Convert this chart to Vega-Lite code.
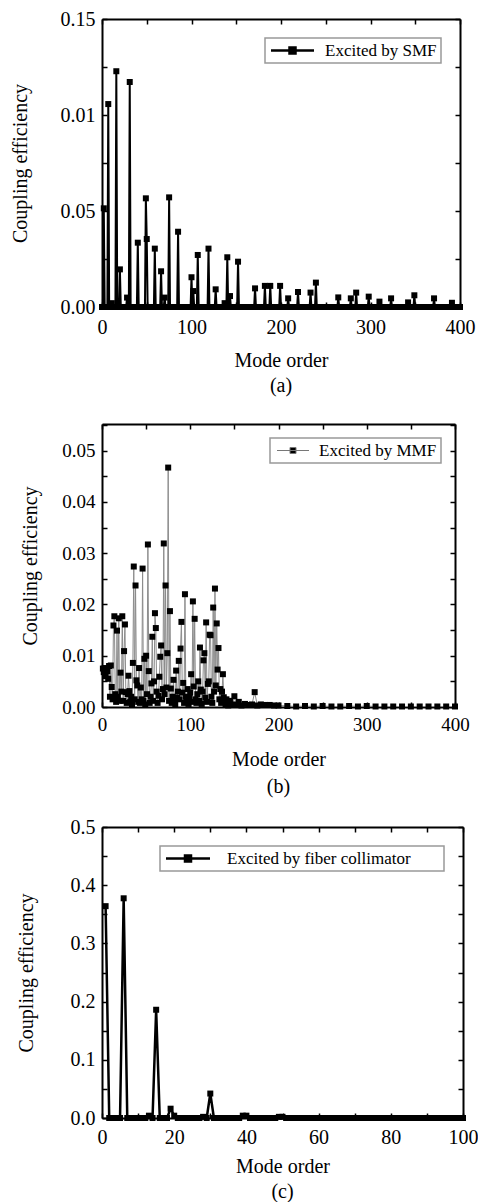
{
"$schema": "https://vega.github.io/schema/vega-lite/v6.json",
"padding": {"top": 9, "left": 10, "right": 0, "bottom": 0},
"spacing": 20,
"background": "white",
"resolve": {"scale": {"color": "independent"}, "legend": {"color": "independent"}},
"config": {
  "font": "Liberation Serif",
  "view": {"stroke": null},
  "axis": {"grid": false, "domainColor": "black", "domainWidth": 2, "tickColor": "black", "tickWidth": 1.5, "tickSize": -5, "labelColor": "black", "titleColor": "black", "labelFont": "Liberation Serif", "titleFont": "Liberation Serif", "labelFontSize": 20, "titleFontSize": 20, "titleFontWeight": "normal", "labelPadding": 12, "labelOverlap": false, "labelFlush": false, "labelBound": false},
  "legend": {"orient": "top-right", "offset": 19, "padding": 4, "strokeColor": "#999", "strokeWidth": 1.5, "fillColor": "white", "labelFont": "Liberation Serif", "labelFontSize": 17, "labelColor": "black", "title": null, "labelLimit": 0},
  "title": {"font": "Liberation Serif", "fontSize": 20, "fontWeight": "normal", "color": "black"}
},
"vconcat": [
{
  "width": 358, "height": 288,
  "title": {"text": "(a)", "orient": "bottom", "offset": 6},
  "data": {"values": [
    {"m":0,"v":0},{"m":1,"v":0},{"m":2,"v":0.0514},{"m":3,"v":0},{"m":5,"v":0},{"m":6,"v":0},{"m":7,"v":0.1057},{"m":8,"v":0},{"m":10,"v":0},{"m":11,"v":0.002},{"m":12,"v":0},{"m":15,"v":0},{"m":16,"v":0.1228},{"m":17,"v":0},{"m":19,"v":0},{"m":20,"v":0.0196},{"m":21,"v":0},{"m":25,"v":0},{"m":27,"v":0},{"m":28,"v":0.0049},{"m":29,"v":0},{"m":30,"v":0},{"m":31,"v":0.1172},{"m":32,"v":0},{"m":35,"v":0},{"m":39,"v":0},{"m":40,"v":0.0335},{"m":41,"v":0},{"m":45,"v":0},{"m":48,"v":0},{"m":49,"v":0.0566},{"m":50,"v":0.0354},{"m":51,"v":0},{"m":55,"v":0},{"m":58,"v":0},{"m":59,"v":0.0304},{"m":60,"v":0},{"m":65,"v":0},{"m":66,"v":0.0186},{"m":67,"v":0},{"m":69,"v":0},{"m":70,"v":0.0049},{"m":71,"v":0},{"m":74,"v":0},{"m":75,"v":0.0571},{"m":76,"v":0},{"m":80,"v":0},{"m":84,"v":0},{"m":85,"v":0.0392},{"m":86,"v":0},{"m":90,"v":0},{"m":95,"v":0},{"m":99,"v":0},{"m":100,"v":0.0155},{"m":101,"v":0},{"m":102,"v":0.0083},{"m":103,"v":0},{"m":105,"v":0},{"m":106,"v":0},{"m":107,"v":0.0271},{"m":108,"v":0},{"m":110,"v":0},{"m":115,"v":0},{"m":118,"v":0},{"m":119,"v":0.0304},{"m":120,"v":0},{"m":125,"v":0},{"m":126,"v":0},{"m":127,"v":0.0092},{"m":128,"v":0},{"m":130,"v":0},{"m":135,"v":0},{"m":136,"v":0},{"m":137,"v":0.002},{"m":138,"v":0},{"m":139,"v":0},{"m":140,"v":0.0259},{"m":141,"v":0},{"m":142,"v":0},{"m":143,"v":0.0057},{"m":144,"v":0},{"m":145,"v":0},{"m":150,"v":0},{"m":151,"v":0},{"m":152,"v":0.0236},{"m":153,"v":0},{"m":155,"v":0},{"m":160,"v":0},{"m":165,"v":0},{"m":170,"v":0},{"m":171,"v":0.0097},{"m":172,"v":0},{"m":175,"v":0},{"m":180,"v":0},{"m":181,"v":0},{"m":182,"v":0.011},{"m":183,"v":0},{"m":185,"v":0},{"m":187,"v":0},{"m":188,"v":0.011},{"m":189,"v":0},{"m":190,"v":0},{"m":195,"v":0},{"m":198,"v":0},{"m":199,"v":0.011},{"m":200,"v":0},{"m":205,"v":0},{"m":207,"v":0},{"m":208,"v":0.0045},{"m":209,"v":0},{"m":210,"v":0},{"m":215,"v":0},{"m":218,"v":0},{"m":219,"v":0.0078},{"m":220,"v":0},{"m":225,"v":0},{"m":230,"v":0},{"m":232,"v":0},{"m":233,"v":0.0075},{"m":234,"v":0},{"m":235,"v":0},{"m":238,"v":0},{"m":239,"v":0.0127},{"m":240,"v":0},{"m":245,"v":0},{"m":250,"v":0},{"m":255,"v":0},{"m":260,"v":0},{"m":263,"v":0},{"m":264,"v":0.005},{"m":265,"v":0},{"m":270,"v":0},{"m":275,"v":0},{"m":277,"v":0},{"m":278,"v":0.0045},{"m":279,"v":0},{"m":280,"v":0},{"m":283,"v":0},{"m":284,"v":0.0075},{"m":285,"v":0},{"m":290,"v":0},{"m":295,"v":0},{"m":297,"v":0},{"m":298,"v":0.0054},{"m":299,"v":0},{"m":300,"v":0},{"m":305,"v":0},{"m":309,"v":0},{"m":310,"v":0.0028},{"m":311,"v":0},{"m":315,"v":0},{"m":320,"v":0},{"m":322,"v":0},{"m":323,"v":0.0045},{"m":324,"v":0},{"m":325,"v":0},{"m":330,"v":0},{"m":335,"v":0},{"m":340,"v":0},{"m":341,"v":0},{"m":342,"v":0.0024},{"m":343,"v":0},{"m":345,"v":0},{"m":348,"v":0},{"m":349,"v":0.0061},{"m":350,"v":0},{"m":355,"v":0},{"m":360,"v":0},{"m":365,"v":0},{"m":370,"v":0},{"m":371,"v":0.0045},{"m":372,"v":0},{"m":375,"v":0},{"m":380,"v":0},{"m":385,"v":0},{"m":390,"v":0},{"m":391,"v":0.0022},{"m":392,"v":0},{"m":395,"v":0},{"m":400,"v":0}
  ]},
  "layer": [
    {"mark": {"type": "line", "color": "black", "strokeWidth": 2},
     "encoding": {
       "x": {"field": "m", "type": "quantitative", "scale": {"domain": [0, 400], "nice": false},
             "axis": {"orient": "bottom", "values": [0,50,100,150,200,250,300,350,400], "labelExpr": "datum.value % 100 === 0 ? datum.label : ''", "title": "Mode order", "labelPadding": 15, "titlePadding": 13}},
       "y": {"field": "v", "type": "quantitative", "scale": {"domain": [0, 0.15], "nice": false},
             "axis": {"orient": "left", "values": [0,0.025,0.05,0.075,0.1,0.125,0.15], "labelExpr": "abs(datum.value - 0.1) < 1e-9 ? '0.01' : (abs(datum.value/0.05 - round(datum.value/0.05)) < 1e-6 ? format(datum.value, '.2f') : '')", "title": "Coupling efficiency", "titlePadding": 30}}
     }},
    {"mark": {"type": "point", "shape": "square", "filled": true, "size": 36, "opacity": 1},
     "encoding": {
       "x": {"field": "m", "type": "quantitative", "axis": {"orient": "top", "values": [0,50,100,150,200,250,300,350,400], "labels": false, "title": null}},
       "y": {"field": "v", "type": "quantitative", "axis": {"orient": "right", "values": [0,0.025,0.05,0.075,0.1,0.125,0.15], "labels": false, "title": null}},
       "color": {"datum": "Excited by SMF", "type": "nominal", "scale": {"range": ["black"]},
                 "legend": {"symbolType": "M-1.3,0H7.3M2.4,-0.6H3.6V0.6H2.4Z", "symbolSize": 100, "symbolStrokeWidth": 2.5, "symbolStrokeColor": "black", "symbolFillColor": "black", "symbolOpacity": 1, "labelOffset": 39}}
     }}
  ],
  "resolve": {"axis": {"x": "independent", "y": "independent"}}
},
{
  "width": 353, "height": 283,
  "title": {"text": "(b)", "orient": "bottom", "offset": 8},
  "data": {"values": [
    {"m":1,"v":0.0075},{"m":2,"v":0.0068},{"m":3,"v":0.0076},{"m":4,"v":0.006},{"m":5,"v":0.0072},{"m":6,"v":0.007},{"m":7,"v":0.0055},{"m":8,"v":0.008},{"m":9,"v":0.002},{"m":10,"v":0.0081},{"m":11,"v":0.0039},{"m":12,"v":0.0015},{"m":13,"v":0.0159},{"m":14,"v":0.0177},{"m":15,"v":0.0025},{"m":16,"v":0.001},{"m":17,"v":0.0149},{"m":18,"v":0.002},{"m":19,"v":0.0173},{"m":20,"v":0.0012},{"m":21,"v":0.0067},{"m":22,"v":0.003},{"m":23,"v":0.0177},{"m":24,"v":0.0012},{"m":25,"v":0.0109},{"m":26,"v":0.0161},{"m":27,"v":0.0029},{"m":28,"v":0.0008},{"m":29,"v":0.0025},{"m":30,"v":0.0061},{"m":31,"v":0.0031},{"m":32,"v":0.001},{"m":33,"v":0.002},{"m":34,"v":0.0005},{"m":35,"v":0.0086},{"m":36,"v":0.0274},{"m":37,"v":0.0015},{"m":38,"v":0.0237},{"m":39,"v":0.0052},{"m":40,"v":0.0042},{"m":41,"v":0.001},{"m":42,"v":0.0076},{"m":43,"v":0.0008},{"m":44,"v":0.0038},{"m":45,"v":0.0015},{"m":46,"v":0.027},{"m":47,"v":0.0012},{"m":48,"v":0.0094},{"m":49,"v":0.0005},{"m":50,"v":0.01},{"m":51,"v":0.0025},{"m":52,"v":0.0317},{"m":53,"v":0.007},{"m":54,"v":0.0008},{"m":55,"v":0.002},{"m":56,"v":0.0046},{"m":57,"v":0.0137},{"m":58,"v":0.0012},{"m":59,"v":0.005},{"m":60,"v":0.0183},{"m":61,"v":0.0154},{"m":62,"v":0.003},{"m":63,"v":0.0008},{"m":64,"v":0.0022},{"m":65,"v":0.0059},{"m":66,"v":0.0098},{"m":67,"v":0.012},{"m":68,"v":0.0015},{"m":69,"v":0.0035},{"m":70,"v":0.0319},{"m":71,"v":0.0025},{"m":72,"v":0.0237},{"m":73,"v":0.0038},{"m":74,"v":0.0105},{"m":75,"v":0.0467},{"m":76,"v":0.0012},{"m":77,"v":0.0187},{"m":78,"v":0.0036},{"m":79,"v":0.0008},{"m":80,"v":0.002},{"m":81,"v":0.0053},{"m":82,"v":0.001},{"m":83,"v":0.0005},{"m":84,"v":0.0071},{"m":85,"v":0.0018},{"m":86,"v":0.003},{"m":87,"v":0.009},{"m":88,"v":0.0015},{"m":89,"v":0.0114},{"m":90,"v":0.0166},{"m":91,"v":0.0028},{"m":92,"v":0.0047},{"m":93,"v":0.0008},{"m":94,"v":0.022},{"m":95,"v":0.002},{"m":96,"v":0.0012},{"m":97,"v":0.0035},{"m":98,"v":0.0006},{"m":99,"v":0.0018},{"m":100,"v":0.0028},{"m":101,"v":0.0064},{"m":102,"v":0.001},{"m":103,"v":0.0206},{"m":104,"v":0.004},{"m":105,"v":0.0172},{"m":106,"v":0.0015},{"m":107,"v":0.0008},{"m":108,"v":0.0025},{"m":109,"v":0.005},{"m":110,"v":0.0012},{"m":111,"v":0.0116},{"m":112,"v":0.0034},{"m":113,"v":0.0006},{"m":114,"v":0.003},{"m":115,"v":0.0091},{"m":116,"v":0.0105},{"m":117,"v":0.0018},{"m":118,"v":0.0165},{"m":119,"v":0.001},{"m":120,"v":0.0045},{"m":121,"v":0.005},{"m":122,"v":0.0141},{"m":123,"v":0.014},{"m":124,"v":0.002},{"m":125,"v":0.0008},{"m":126,"v":0.0194},{"m":127,"v":0.003},{"m":128,"v":0.0231},{"m":129,"v":0.0042},{"m":130,"v":0.0163},{"m":131,"v":0.0073},{"m":132,"v":0.0115},{"m":133,"v":0.0015},{"m":134,"v":0.0035},{"m":135,"v":0.0008},{"m":136,"v":0.003},{"m":137,"v":0.0064},{"m":138,"v":0.0019},{"m":139,"v":0.001},{"m":140,"v":0.0005},{"m":141,"v":0.0015},{"m":142,"v":0.0008},{"m":143,"v":0.0003},{"m":145,"v":0.0012},{"m":148,"v":0.0005},{"m":150,"v":0.0021},{"m":152,"v":0.0004},{"m":155,"v":0.001},{"m":158,"v":0.0003},{"m":162,"v":0.0006},{"m":166,"v":0.0004},{"m":170,"v":0.0005},{"m":173,"v":0.0029},{"m":176,"v":0.0003},{"m":180,"v":0.0005},{"m":185,"v":0.0004},{"m":190,"v":0.0004},{"m":195,"v":0.0003},{"m":200,"v":0.0003},{"m":210,"v":0.0002},{"m":220,"v":0.0001},{"m":230,"v":0.0002},{"m":240,"v":0.0001},{"m":250,"v":0.0002},{"m":260,"v":0.0001},{"m":270,"v":0.0001},{"m":280,"v":0.0002},{"m":290,"v":0.0001},{"m":300,"v":0.0002},{"m":310,"v":0.0001},{"m":320,"v":0.0001},{"m":330,"v":0.0001},{"m":340,"v":0.0001},{"m":350,"v":0.0001},{"m":360,"v":0.0001},{"m":370,"v":0.0001},{"m":380,"v":0.0001},{"m":390,"v":0.0001},{"m":400,"v":0.0001}
  ]},
  "layer": [
    {"mark": {"type": "line", "color": "#8c8c8c", "strokeWidth": 1},
     "encoding": {
       "x": {"field": "m", "type": "quantitative", "scale": {"domain": [0, 400], "nice": false},
             "axis": {"orient": "bottom", "values": [0,50,100,150,200,250,300,350,400], "labelExpr": "datum.value % 100 === 0 ? datum.label : ''", "title": "Mode order", "labelPadding": 13, "titlePadding": 15, "labelFontSize": 19}},
       "y": {"field": "v", "type": "quantitative", "scale": {"domain": [0, 0.0552], "nice": false},
             "axis": {"orient": "left", "values": [0,0.005,0.01,0.015,0.02,0.025,0.03,0.035,0.04,0.045,0.05,0.055], "labelExpr": "abs(datum.value/0.01 - round(datum.value/0.01)) < 1e-6 ? format(datum.value, '.2f') : ''", "title": "Coupling efficiency", "titlePadding": 21, "labelFontSize": 19}}
     }},
    {"mark": {"type": "point", "shape": "square", "filled": true, "size": 36, "opacity": 1},
     "encoding": {
       "x": {"field": "m", "type": "quantitative", "axis": {"orient": "top", "values": [0,50,100,150,200,250,300,350,400], "labels": false, "title": null}},
       "y": {"field": "v", "type": "quantitative", "axis": {"orient": "right", "values": [0,0.005,0.01,0.015,0.02,0.025,0.03,0.035,0.04,0.045,0.05,0.055], "labels": false, "title": null}},
       "color": {"datum": "Excited by MMF", "type": "nominal", "scale": {"range": ["black"]},
                 "legend": {"offset": 14, "symbolType": "M-1.1,0H5.3M1.5,-0.6H2.7V0.6H1.5Z", "symbolSize": 100, "symbolStrokeWidth": 1, "symbolStrokeColor": "#777", "symbolFillColor": "black", "symbolOpacity": 1, "labelOffset": 28}}
     }}
  ],
  "resolve": {"axis": {"x": "independent", "y": "independent"}}
},
{
  "width": 361, "height": 291,
  "title": {"text": "(c)", "orient": "bottom", "offset": 6},
  "data": {"values": [
    {"m":1,"v":0.364},{"m":2,"v":0},{"m":3,"v":0},{"m":4,"v":0},{"m":5,"v":0},{"m":6,"v":0.3775},{"m":7,"v":0},{"m":8,"v":0},{"m":9,"v":0},{"m":10,"v":0},{"m":11,"v":0},{"m":12,"v":0},{"m":13,"v":0.004},{"m":14,"v":0},{"m":15,"v":0.186},{"m":16,"v":0},{"m":17,"v":0},{"m":18,"v":0},{"m":19,"v":0.016},{"m":20,"v":0.004},{"m":21,"v":0},{"m":22,"v":0},{"m":23,"v":0},{"m":24,"v":0},{"m":25,"v":0},{"m":26,"v":0},{"m":27,"v":0},{"m":28,"v":0.002},{"m":29,"v":0},{"m":30,"v":0.042},{"m":31,"v":0},{"m":32,"v":0},{"m":33,"v":0},{"m":34,"v":0},{"m":35,"v":0},{"m":36,"v":0},{"m":37,"v":0},{"m":38,"v":0},{"m":39,"v":0.004},{"m":40,"v":0.004},{"m":41,"v":0},{"m":42,"v":0},{"m":43,"v":0},{"m":44,"v":0},{"m":45,"v":0},{"m":46,"v":0},{"m":47,"v":0},{"m":48,"v":0},{"m":49,"v":0.002},{"m":50,"v":0.002},{"m":51,"v":0},{"m":52,"v":0},{"m":53,"v":0},{"m":54,"v":0},{"m":55,"v":0},{"m":56,"v":0},{"m":57,"v":0},{"m":58,"v":0},{"m":59,"v":0},{"m":60,"v":0},{"m":61,"v":0},{"m":62,"v":0},{"m":63,"v":0},{"m":64,"v":0},{"m":65,"v":0},{"m":66,"v":0},{"m":67,"v":0},{"m":68,"v":0},{"m":69,"v":0},{"m":70,"v":0},{"m":71,"v":0},{"m":72,"v":0},{"m":73,"v":0},{"m":74,"v":0},{"m":75,"v":0},{"m":76,"v":0},{"m":77,"v":0},{"m":78,"v":0},{"m":79,"v":0},{"m":80,"v":0},{"m":81,"v":0},{"m":82,"v":0},{"m":83,"v":0},{"m":84,"v":0},{"m":85,"v":0},{"m":86,"v":0},{"m":87,"v":0},{"m":88,"v":0},{"m":89,"v":0},{"m":90,"v":0},{"m":91,"v":0},{"m":92,"v":0},{"m":93,"v":0},{"m":94,"v":0},{"m":95,"v":0},{"m":96,"v":0},{"m":97,"v":0},{"m":98,"v":0},{"m":99,"v":0},{"m":100,"v":0}
  ]},
  "layer": [
    {"mark": {"type": "line", "color": "black", "strokeWidth": 2.5},
     "encoding": {
       "x": {"field": "m", "type": "quantitative", "scale": {"domain": [0, 100], "nice": false},
             "axis": {"orient": "bottom", "values": [0,10,20,30,40,50,60,70,80,90,100], "labelExpr": "datum.value % 20 === 0 ? datum.label : ''", "title": "Mode order", "labelPadding": 14, "titlePadding": 9}},
       "y": {"field": "v", "type": "quantitative", "scale": {"domain": [0, 0.5], "nice": false},
             "axis": {"orient": "left", "values": [0,0.05,0.1,0.15,0.2,0.25,0.3,0.35,0.4,0.45,0.5], "labelExpr": "abs(datum.value/0.1 - round(datum.value/0.1)) < 1e-6 ? format(datum.value, '.1f') : ''", "title": "Coupling efficiency", "titlePadding": 34}}
     }},
    {"mark": {"type": "point", "shape": "square", "filled": true, "size": 36, "opacity": 1},
     "encoding": {
       "x": {"field": "m", "type": "quantitative", "axis": {"orient": "top", "values": [0,10,20,30,40,50,60,70,80,90,100], "labels": false, "title": null}},
       "y": {"field": "v", "type": "quantitative", "axis": {"orient": "right", "values": [0,0.05,0.1,0.15,0.2,0.25,0.3,0.35,0.4,0.45,0.5], "labels": false, "title": null}},
       "color": {"datum": "Excited by fiber collimator", "type": "nominal", "scale": {"range": ["black"]},
                 "legend": {"symbolType": "M-1.3,0H7.5M2.5,-0.6H3.7V0.6H2.5ZM52.5,0", "symbolSize": 100, "symbolStrokeWidth": 2.5, "symbolStrokeColor": "black", "symbolFillColor": "black", "symbolOpacity": 1, "labelOffset": 46}}
     }}
  ],
  "resolve": {"axis": {"x": "independent", "y": "independent"}}
}
]
}
